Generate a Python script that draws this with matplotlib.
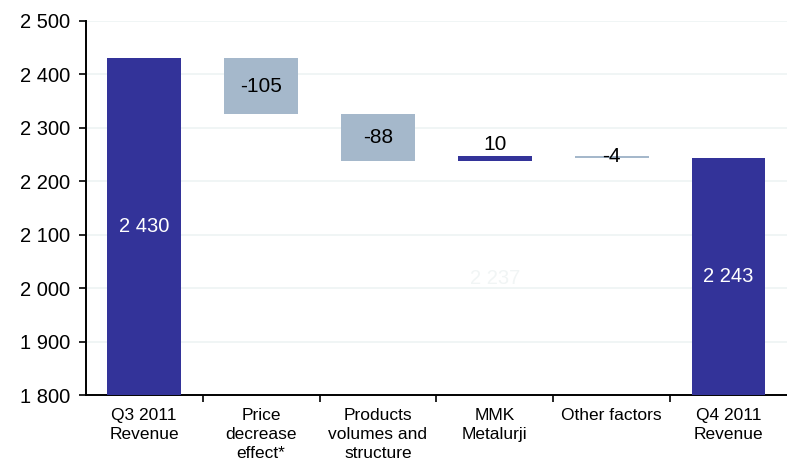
import numpy as np
import matplotlib
matplotlib.use("Agg")
import matplotlib.pyplot as plt

plt.rcParams['font.family'] = ['Liberation Sans', 'DejaVu Sans']

# data
categories = ["Q3 2011\nRevenue", "Price\ndecrease\neffect*", "Products\nvolumes and\nstructure",
              "MMK\nMetalurji", "Other factors", "Q4 2011\nRevenue"]
start_total = 2430
changes = [-105, -88, 10, -4]
end_total = 2243
yticks = [1800, 1900, 2000, 2100, 2200, 2300, 2400, 2500]

dark = "#333399"
light = "#A5B8CB"
ymin = 1800

fig = plt.figure(figsize=(7.87, 4.67), dpi=100)
ax = fig.add_axes([0.109, 0.154, 0.891, 0.802])

x = np.arange(len(categories))
w = 0.63

# running levels
levels = [start_total]
for c in changes:
    levels.append(levels[-1] + c)

# totals
ax.bar(x[0], start_total - ymin, bottom=ymin, width=w, color=dark, zorder=3)
ax.bar(x[-1], end_total - ymin, bottom=ymin, width=w, color=dark, zorder=3)
ax.text(x[0], (start_total + ymin) / 2, "2 430", ha="center", va="center", color="white", fontsize=14.5, zorder=4)
ax.text(x[-1], (end_total + ymin) / 2, "2 243", ha="center", va="center", color="white", fontsize=14.5, zorder=4)

# steps
for i, c in enumerate(changes):
    lo = min(levels[i], levels[i + 1])
    hi = max(levels[i], levels[i + 1])
    col = dark if c > 0 else light
    ax.bar(x[i + 1], hi - lo, bottom=lo, width=w, color=col, zorder=3)
    lab = str(c)
    if c > 0 and abs(c) < 20:
        ax.text(x[i + 1], hi + 3, lab, ha="center", va="bottom", fontsize=15, zorder=4)
    else:
        ax.text(x[i + 1], (hi + lo) / 2, lab, ha="center", va="center", fontsize=15, zorder=4)

# hidden base label
ax.text(x[3], (levels[2] + ymin) / 2, "2 237", ha="center", va="center", color="#F1F5F5", fontsize=14.5, zorder=2)

ax.set_ylim(1800, 2500)
ax.set_xlim(-0.5, len(categories) - 0.5)
ax.set_yticks(yticks)
ax.set_yticklabels(["{:,}".format(v).replace(",", " ") for v in yticks], fontsize=14.5)
ax.set_xticks(x)
ax.set_xticklabels(categories, fontsize=12.5, va="top", linespacing=1.35)
ax.tick_params(axis="x", length=0, pad=9)
ax.set_xticks(np.arange(0.5, len(categories) - 0.5, 1), minor=True)
ax.tick_params(axis="x", which="minor", length=5, width=1.2, direction="out")
ax.tick_params(axis="y", length=5, width=1.2, direction="out", pad=6)

ax.grid(axis="y", color="#EEF3F3", linewidth=1.2, zorder=0)
ax.spines["top"].set_visible(False)
ax.spines["right"].set_visible(False)
ax.spines["left"].set_linewidth(1.4)
ax.spines["bottom"].set_linewidth(1.4)

fig.savefig("out.png", dpi=100)
